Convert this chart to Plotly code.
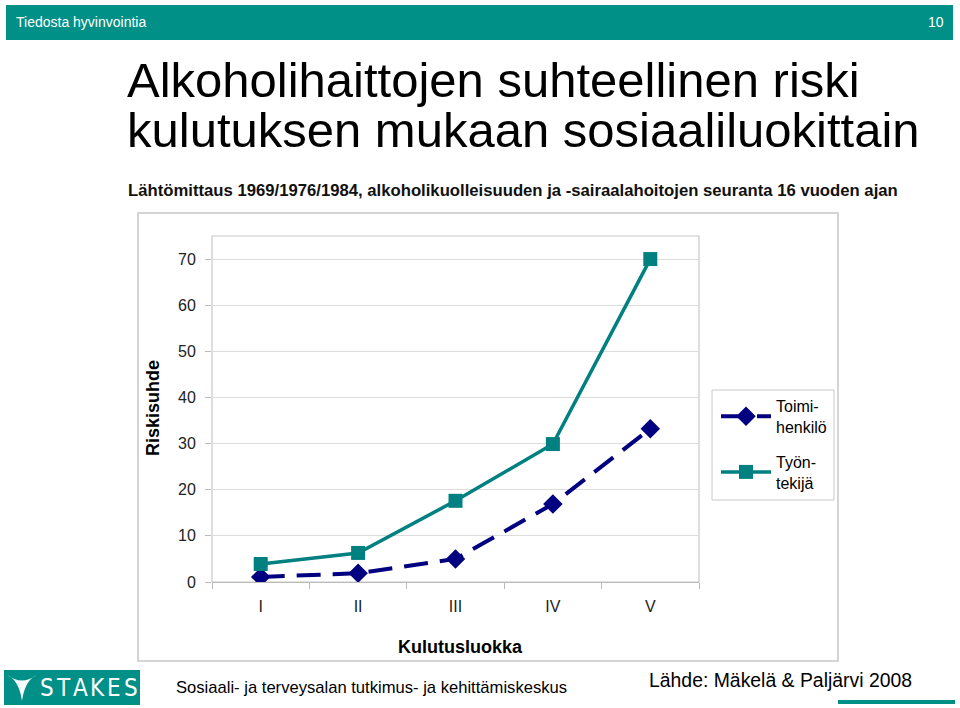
import plotly.graph_objects as go

W, H = 960, 708
categories = ["I", "II", "III", "IV", "V"]
toimihenkilo = [1.1, 1.9, 5.0, 16.9, 33.2]
tyontekija = [3.9, 6.3, 17.6, 29.9, 70.0]
series_names = ["Toimi-<br>henkilö", "Työn-<br>tekijä"]
y_ticks = [0, 10, 20, 30, 40, 50, 60, 70]
logo_letters = ["S", "T", "A", "K", "E", "S"]

FONT = "Liberation Sans, Arial, sans-serif"
TEAL = "#009088"

def px(x):
    return x / W

def py(y):
    return 1 - y / H

fig = go.Figure()
fig.add_trace(go.Scatter(
    x=categories, y=toimihenkilo, name=series_names[0], mode="lines+markers",
    legendgroup="a",
    line=dict(color="#000080", width=4, dash="24px,12px"),
    marker=dict(symbol="diamond", size=15, color="#000080"),
))
fig.add_trace(go.Scatter(
    x=categories, y=tyontekija, name=series_names[1], mode="lines+markers",
    legendgroup="b",
    line=dict(color="#008080", width=3.5),
    marker=dict(symbol="square", size=14, color="#008080"),
))

shapes = []
shapes.append(dict(type="rect", xref="paper", yref="paper", x0=px(6), x1=px(953),
                   y0=py(40), y1=py(5), fillcolor=TEAL, line=dict(width=0), layer="below"))
shapes.append(dict(type="rect", xref="paper", yref="paper", x0=px(138), x1=px(838),
                   y0=py(661), y1=py(213), line=dict(color="#c8c8c8", width=1.5),
                   fillcolor="rgba(0,0,0,0)", layer="below"))
shapes.append(dict(type="rect", xref="x domain", yref="y domain", x0=0, x1=1, y0=0, y1=1,
                   line=dict(color="#c8c8c8", width=1.2), layer="below"))
shapes.append(dict(type="rect", xref="paper", yref="paper", x0=px(712), x1=px(834),
                   y0=py(500), y1=py(390), line=dict(color="#c8c8c8", width=1),
                   fillcolor="white", layer="below"))
shapes.append(dict(type="rect", xref="paper", yref="paper", x0=px(4), x1=px(140),
                   y0=py(705), y1=py(670), fillcolor=TEAL, line=dict(width=0)))
shapes.append(dict(type="path", xref="paper", yref="paper",
                   path="M {:.4f} {:.4f} Q {:.4f} {:.4f} {:.4f} {:.4f} Q {:.4f} {:.4f} {:.4f} {:.4f} Q {:.4f} {:.4f} {:.4f} {:.4f} Z".format(
                       px(7), py(675), px(19), py(680), px(22), py(701),
                       px(25), py(680), px(37), py(675),
                       px(22), py(686), px(7), py(675)),
                   fillcolor="white", line=dict(width=0)))
shapes.append(dict(type="rect", xref="paper", yref="paper", x0=px(838), x1=px(955),
                   y0=py(704), y1=py(700), fillcolor=TEAL, line=dict(width=0)))

annotations = [
    dict(text="Tiedosta hyvinvointia", x=px(14), y=py(22), xanchor="left", yanchor="middle",
         font=dict(family=FONT, size=14, color="white")),
    dict(text="10", x=px(946), y=py(22), xanchor="right", yanchor="middle",
         font=dict(family=FONT, size=14, color="white")),
    dict(text="Alkoholihaittojen suhteellinen riski", x=px(125), y=py(80), xanchor="left", yanchor="middle",
         font=dict(family=FONT, size=49, color="black")),
    dict(text="kulutuksen mukaan sosiaaliluokittain", x=px(125), y=py(130), xanchor="left", yanchor="middle",
         font=dict(family=FONT, size=49, color="black")),
    dict(text="<b>Lähtömittaus 1969/1976/1984, alkoholikuolleisuuden ja -sairaalahoitojen seuranta 16 vuoden ajan</b>",
         x=px(126), y=py(190), xanchor="left", yanchor="middle",
         font=dict(family=FONT, size=16.7, color="#111")),
    dict(text="<b>Riskisuhde</b>", x=px(153), y=py(408), xanchor="center", yanchor="middle", textangle=-90,
         font=dict(family=FONT, size=18, color="black")),
    dict(text="<b>Kulutusluokka</b>", x=px(460), y=py(647), xanchor="center", yanchor="middle",
         font=dict(family=FONT, size=18, color="black")),
    dict(text="Sosiaali- ja terveysalan tutkimus- ja kehittämiskeskus", x=px(174), y=py(687),
         xanchor="left", yanchor="middle", font=dict(family=FONT, size=16.6, color="black")),
    dict(text="Lähde: Mäkelä & Paljärvi 2008", x=px(647), y=py(680),
         xanchor="left", yanchor="middle", font=dict(family=FONT, size=19.4, color="black")),
]
for i, letter in enumerate(logo_letters):
    annotations.append(dict(text=letter, x=px(47 + i * 16.8), y=py(688), xanchor="center", yanchor="middle",
                            font=dict(family="DejaVu Sans Condensed, sans-serif", size=24, color="white")))
for a in annotations:
    a.update(xref="paper", yref="paper", showarrow=False)

fig.update_layout(
    width=W, height=H, margin=dict(l=0, r=0, t=0, b=0, autoexpand=False),
    paper_bgcolor="white", plot_bgcolor="white",
    font=dict(family=FONT, color="#222"),
    shapes=shapes, annotations=annotations,
    showlegend=True,
    legend=dict(x=px(716), y=py(389), xanchor="left", yanchor="top",
                bgcolor="rgba(0,0,0,0)", font=dict(family=FONT, size=16, color="black"),
                itemwidth=50, tracegroupgap=11),
    xaxis=dict(domain=[px(212), px(699)], range=[-0.5, 4.5], type="category",
               tickson="boundaries", ticks="outside", ticklen=6, tickcolor="#bbbbbb",
               showline=True, linecolor="#bbbbbb", linewidth=1.2, showgrid=False,
               tickfont=dict(family=FONT, size=16, color="#222"), ticklabelstandoff=10,
               automargin=False, fixedrange=True),
    yaxis=dict(domain=[py(582), py(236)], range=[0, 75], tickvals=y_ticks,
               ticks="outside", ticklen=6, tickcolor="#bbbbbb",
               showline=False, showgrid=True, gridcolor="#dcdcdc", gridwidth=1.2,
               zeroline=False, tickfont=dict(family=FONT, size=16, color="#222"),
               ticklabelstandoff=6, automargin=False, fixedrange=True),
)

fig.write_html("out.html")
